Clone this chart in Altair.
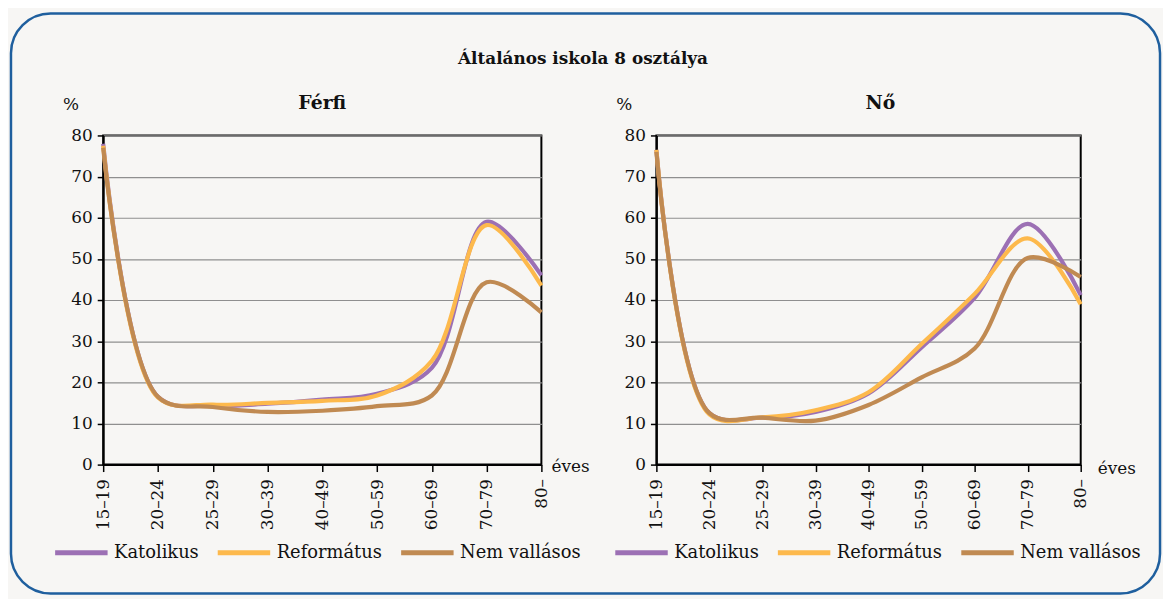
import altair as alt
import pandas as pd

ages = ["15–19", "20–24", "25–29", "30–39", "40–49", "50–59", "60–69", "70–79", "80–"]
series_names = ["Katolikus", "Református", "Nem vallásos"]
colors = ["#9C70B4", "#FDB94C", "#C08A52"]
main_title = "Általános iskola 8 osztálya"
panel_titles = ["Férfi", "Nő"]

ferfi_kat = [78.0, 16.5, 14.3, 14.8, 15.8, 17.2, 23.5, 59.0, 46.0]
ferfi_ref = [77.5, 16.3, 14.6, 15.0, 15.5, 16.8, 25.2, 58.2, 43.5]
ferfi_nem = [77.0, 16.5, 14.0, 12.8, 13.1, 14.2, 16.8, 44.3, 37.0]

no_kat = [76.5, 12.5, 11.4, 12.8, 17.3, 28.5, 40.5, 58.5, 41.2]
no_ref = [76.5, 12.2, 11.5, 13.2, 17.6, 29.3, 41.5, 55.0, 39.0]
no_nem = [76.0, 12.5, 11.4, 10.7, 14.5, 21.2, 28.2, 50.2, 45.6]

FONT = "DejaVu Serif"
TXT = "#111111"


def long_df(kat, ref, nem):
    rows = []
    for name, vals in zip(series_names, [kat, ref, nem]):
        for a, v in zip(ages, vals):
            rows.append({"age": a, "value": v, "series": name})
    return pd.DataFrame(rows)


one = pd.DataFrame({"k": [0]})


def text_layer(txt, x, y, size, weight="bold"):
    return alt.Chart(one).mark_text(
        text=txt, font=FONT, fontSize=size, fontWeight=weight, color=TXT,
        align="center", baseline="middle"
    ).encode(x=alt.value(x), y=alt.value(y))


def panel(title, kat, ref, nem, width, eves_x, eves_y, legend_x, title_dx=0, frame=False):
    df = long_df(kat, ref, nem)
    line = alt.Chart(df).mark_line(interpolate="catmull-rom", strokeWidth=4.2).encode(
        x=alt.X(
            "age:N",
            sort=ages,
            scale=alt.Scale(type="point", padding=0),
            axis=alt.Axis(
                title="éves",
                titleAngle=0,
                titleX=eves_x,
                titleY=eves_y,
                titleAlign="center",
                titleBaseline="middle",
                titleFont=FONT,
                titleFontSize=17,
                titleFontWeight="normal",
                titleColor=TXT,
                labelAngle=-90,
                labelFont=FONT,
                labelFontSize=17,
                labelColor=TXT,
                labelPadding=7,
                tickColor="black",
                tickSize=7,
                tickWidth=1.5,
                domainColor="black",
                domainWidth=2,
                grid=False,
            ),
        ),
        y=alt.Y(
            "value:Q",
            scale=alt.Scale(domain=[0, 80], nice=False),
            axis=alt.Axis(
                values=list(range(0, 81, 10)),
                title="%",
                titleAngle=0,
                titleX=-33,
                titleY=-31,
                titleAlign="center",
                titleBaseline="middle",
                titleFont=FONT,
                titleFontSize=17,
                titleFontWeight="normal",
                titleColor=TXT,
                labelFont=FONT,
                labelFontSize=17,
                labelColor=TXT,
                labelPadding=5,
                tickColor="black",
                tickSize=6,
                tickWidth=1.5,
                domainColor="black",
                domainWidth=2,
                grid=True,
                gridColor="#8f8f8f",
                gridWidth=1.2,
            ),
        ),
        color=alt.Color(
            "series:N",
            scale=alt.Scale(domain=series_names, range=colors),
            legend=alt.Legend(
                orient="none",
                legendX=legend_x,
                legendY=392,
                direction="horizontal",
                title=None,
                symbolType="stroke",
                symbolSize=2800,
                symbolStrokeWidth=5,
                labelFont=FONT,
                labelFontSize=18,
                labelColor=TXT,
                labelOffset=4,
                columnPadding=8,
            ),
        ),
    )
    layers = []
    if frame:
        fr = alt.Chart(one).mark_rect(
            fillOpacity=0, stroke="#1F5F9E", strokeWidth=2.5, cornerRadius=40
        ).encode(
            x=alt.value(-93), x2=alt.value(1066), y=alt.value(-123), y2=alt.value(462)
        )
        layers.append(fr)
        layers.append(text_layer(main_title, 484, -77, 17))
    layers.append(text_layer(title, width / 2 + title_dx, -33, 19))
    layers.append(line)
    return alt.layer(*layers).properties(width=width, height=332)


left = panel(panel_titles[0], ferfi_kat, ferfi_ref, ferfi_nem, 442, 471, 2, -51, frame=True)
right = panel(panel_titles[1], no_kat, no_ref, no_nem, 428, 464, 4, -44, title_dx=12)

chart = (
    alt.hconcat(left, right, spacing=116, bounds="flush")
    .resolve_legend(color="independent")
    .resolve_scale(color="independent")
    .properties(padding=0)
    .configure(background="#F7F6F4", font=FONT)
    .configure_axis(labelFont=FONT, titleFont=FONT)
    .configure_legend(labelFont=FONT)
    .configure_view(stroke="black", strokeWidth=2)
)

chart.save("out.html", embed_options={"renderer": "svg", "actions": False})
